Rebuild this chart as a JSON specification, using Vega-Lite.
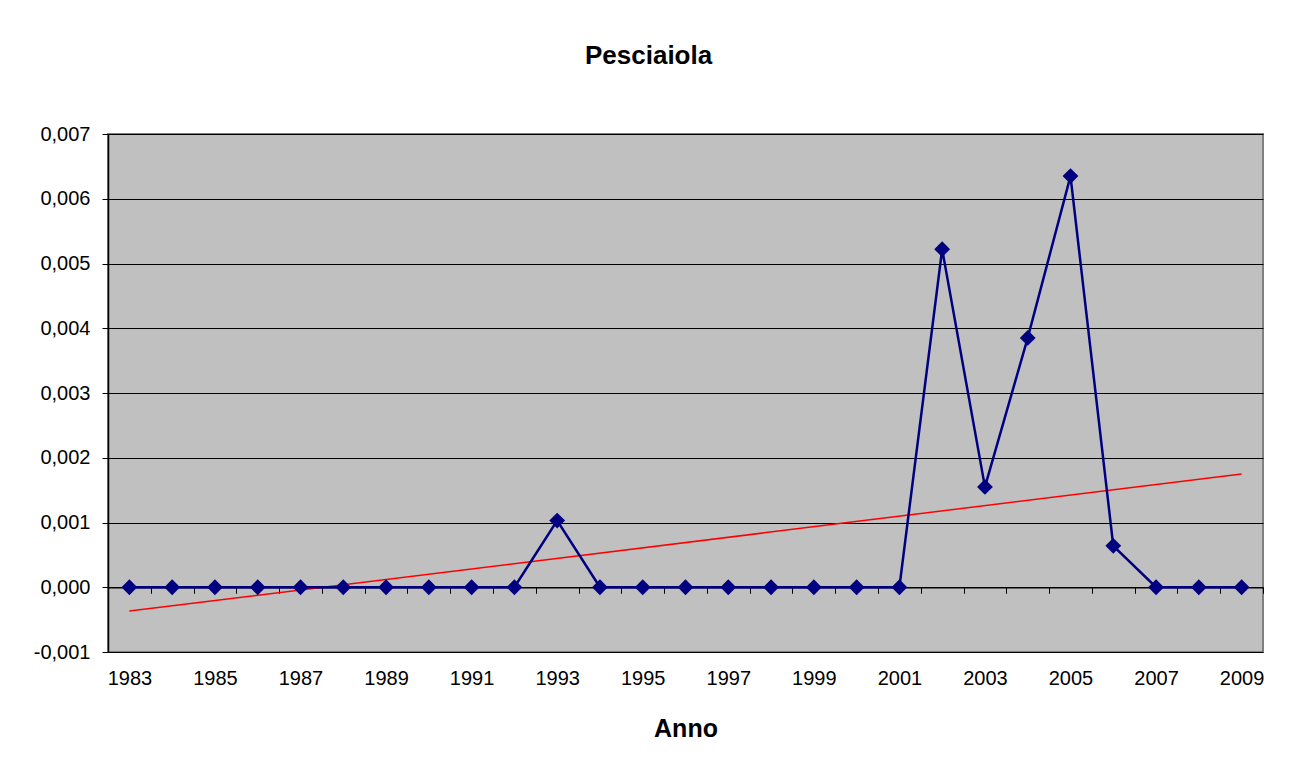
{
  "$schema": "https://vega.github.io/schema/vega-lite/v6.json",
  "autosize": {"type": "none"},
  "width": 1155,
  "height": 518,
  "padding": {"left": 108, "top": 134, "right": 29, "bottom": 127},
  "background": "white",
  "config": {
    "locale": {"number": {"decimal": ",", "thousands": ".", "grouping": [3], "currency": ["", " €"], "minus": "-"}},
    "font": "Liberation Sans",
    "view": {"fill": "#C0C0C0", "stroke": "#808080", "strokeWidth": 2}
  },
  "title": {
    "text": "Pesciaiola",
    "font": "Liberation Sans",
    "fontSize": 26,
    "fontWeight": "bold",
    "color": "black",
    "anchor": "middle",
    "frame": "bounds",
    "offset": 55
  },
  "data": {
    "values": [
      {"year": 1983, "value": 0},
      {"year": 1984, "value": 0},
      {"year": 1985, "value": 0},
      {"year": 1986, "value": 0},
      {"year": 1987, "value": 0},
      {"year": 1988, "value": 0},
      {"year": 1989, "value": 0},
      {"year": 1990, "value": 0},
      {"year": 1991, "value": 0},
      {"year": 1992, "value": 0},
      {"year": 1993, "value": 0.00103},
      {"year": 1994, "value": 0},
      {"year": 1995, "value": 0},
      {"year": 1996, "value": 0},
      {"year": 1997, "value": 0},
      {"year": 1998, "value": 0},
      {"year": 1999, "value": 0},
      {"year": 2000, "value": 0},
      {"year": 2001, "value": 0},
      {"year": 2002, "value": 0.00522},
      {"year": 2003, "value": 0.00155},
      {"year": 2004, "value": 0.00385},
      {"year": 2005, "value": 0.00635},
      {"year": 2006, "value": 0.00064},
      {"year": 2007, "value": 0},
      {"year": 2008, "value": 0},
      {"year": 2009, "value": 0}
    ]
  },
  "layer": [
    {
      "transform": [{"regression": "value", "on": "year", "method": "linear"}],
      "mark": {"type": "line", "color": "#FF0000", "strokeWidth": 1.5},
      "encoding": {
        "x": {
          "field": "year", "type": "quantitative",
          "scale": {"domain": [1982.5, 2009.5], "nice": false, "zero": false},
          "axis": {
            "orient": "bottom",
            "values": [1982.5, 1983.5, 1984.5, 1985.5, 1986.5, 1987.5, 1988.5, 1989.5, 1990.5, 1991.5, 1992.5, 1993.5, 1994.5, 1995.5, 1996.5, 1997.5, 1998.5, 1999.5, 2000.5, 2001.5, 2002.5, 2003.5, 2004.5, 2005.5, 2006.5, 2007.5, 2008.5, 2009.5],
            "labels": false,
            "title": null,
            "grid": false,
            "ticks": true,
            "tickSize": 6,
            "tickColor": "black",
            "tickWidth": 1,
            "domain": true,
            "domainColor": "black",
            "domainWidth": 1.5,
            "offset": -64.75
          }
        },
        "y": {"field": "value", "type": "quantitative"}
      }
    },
    {
      "mark": {
        "type": "line",
        "color": "#000080",
        "strokeWidth": 2.5,
        "point": {"shape": "diamond", "size": 250, "filled": true, "color": "#000080", "opacity": 1}
      },
      "encoding": {
        "x": {
          "field": "year", "type": "quantitative",
          "axis": {
            "orient": "bottom",
            "values": [1983, 1985, 1987, 1989, 1991, 1993, 1995, 1997, 1999, 2001, 2003, 2005, 2007, 2009],
            "format": "d",
            "labelFont": "Liberation Sans",
            "labelFontSize": 20,
            "labelColor": "black",
            "labelPadding": 16,
            "labelFlush": false,
            "labelOverlap": false,
            "ticks": false,
            "tickSize": 0,
            "domain": false,
            "grid": false,
            "title": "Anno",
            "titleFont": "Liberation Sans",
            "titleFontSize": 25,
            "titleFontWeight": "bold",
            "titleColor": "black",
            "titlePadding": 28
          }
        },
        "y": {
          "field": "value", "type": "quantitative",
          "scale": {"domain": [-0.001, 0.007], "nice": false, "zero": false},
          "axis": {
            "values": [-0.001, 0, 0.001, 0.002, 0.003, 0.004, 0.005, 0.006, 0.007],
            "format": ".3f",
            "labelFont": "Liberation Sans",
            "labelFontSize": 20,
            "labelColor": "black",
            "labelPadding": 12,
            "tickSize": 6,
            "tickColor": "black",
            "domain": true,
            "domainColor": "black",
            "domainWidth": 1.5,
            "grid": true,
            "gridColor": "black",
            "gridWidth": 1,
            "gridOpacity": 1,
            "title": null
          }
        }
      }
    }
  ],
  "resolve": {"axis": {"x": "independent"}}
}
